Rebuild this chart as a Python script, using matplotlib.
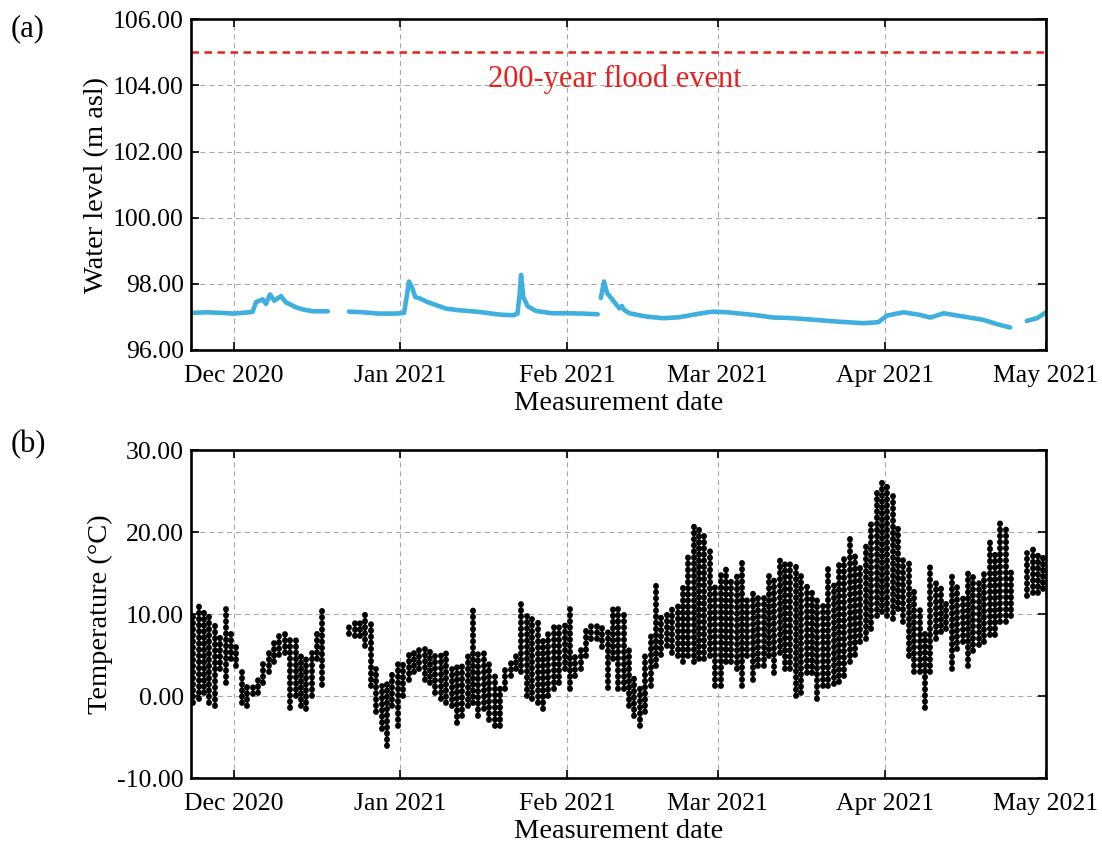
#!/usr/bin/env python3

import matplotlib
matplotlib.use("Agg")
import matplotlib.dates as mdates
import matplotlib.pyplot as plt
import numpy as np
import pandas as pd
from matplotlib.ticker import FormatStrFormatter


# (a) water level; NaN marks a logger gap
LEVEL_TIMES = [
    "2020-11-23", "2020-11-26", "2020-11-29", "2020-12-01", "2020-12-04 12:00",
    "2020-12-05 04:00", "2020-12-06 10:00", "2020-12-07 00:00", "2020-12-07 18:00",
    "2020-12-08 13:00", "2020-12-09 19:00", "2020-12-10 17:00", "2020-12-12 14:00",
    "2020-12-14", "2020-12-15 17:00", "2020-12-18 12:00", "2020-12-20",
    "2020-12-22 10:00", "2020-12-25", "2020-12-28", "2020-12-31",
    "2021-01-01 16:00", "2021-01-02 06:00", "2021-01-02 14:00", "2021-01-03 06:00",
    "2021-01-03 18:00", "2021-01-04 18:00", "2021-01-06", "2021-01-07 14:00",
    "2021-01-09 12:00", "2021-01-12", "2021-01-15 16:00", "2021-01-19 10:00",
    "2021-01-22", "2021-01-22 18:00", "2021-01-23 04:00", "2021-01-23 10:00",
    "2021-01-23 20:00", "2021-01-24 16:00", "2021-01-26 04:00", "2021-01-29 06:00",
    "2021-02-01", "2021-02-04", "2021-02-06 16:00", "2021-02-07",
    "2021-02-07 06:00", "2021-02-07 20:00", "2021-02-08 10:00", "2021-02-09 10:00",
    "2021-02-10 16:00", "2021-02-11 04:00", "2021-02-11 12:00", "2021-02-12 14:00",
    "2021-02-15 16:00", "2021-02-18 20:00", "2021-02-21 20:00", "2021-02-25 14:00",
    "2021-02-28", "2021-03-02 16:00", "2021-03-07 16:00", "2021-03-11 10:00",
    "2021-03-14", "2021-03-17 14:00", "2021-03-20", "2021-03-23", "2021-03-28",
    "2021-03-30 20:00", "2021-04-01 10:00", "2021-04-04 12:00", "2021-04-07 14:00",
    "2021-04-09 12:00", "2021-04-12", "2021-04-15 16:00", "2021-04-19 10:00",
    "2021-04-21 22:00", "2021-04-24 08:00", "2021-04-26", "2021-04-27 10:00",
    "2021-04-29 08:00", "2021-05-01",
]
LEVEL_M = [
    97.12, 97.14, 97.12, 97.10, 97.15,
    97.45, 97.53, 97.39, 97.68,
    97.49, 97.63, 97.44, 97.29,
    97.22, 97.17, 97.17, np.nan,
    97.16, 97.14, 97.10, 97.10,
    97.12, 97.70, 98.07, 97.85,
    97.60, 97.55, 97.45, 97.36,
    97.25, 97.20, 97.15, 97.07,
    97.05, 97.10, 97.70, 98.27,
    97.60, 97.32, 97.18, 97.11,
    97.11, 97.10, 97.08, np.nan,
    97.57, 98.07, 97.72, 97.52,
    97.26, 97.33, 97.22, 97.11,
    97.01, 96.96, 96.99, 97.10,
    97.16, 97.14, 97.06, 96.98,
    96.97, 96.93, 96.90, 96.86, 96.81,
    96.84, 97.04, 97.14, 97.06,
    96.98, 97.11, 97.01, 96.91,
    96.78, 96.68, np.nan, 96.88,
    96.96, 97.14,
]
FLOOD_LEVEL = 105.0

# (b) temperature: daily low / high of the hourly readings
TEMP_DAYS = [
    "2020-11-23", "2020-11-24", "2020-11-25", "2020-11-26", "2020-11-27", "2020-11-28",
    "2020-11-29", "2020-11-30", "2020-12-01", "2020-12-02", "2020-12-03", "2020-12-04",
    "2020-12-05", "2020-12-06", "2020-12-07", "2020-12-08", "2020-12-09", "2020-12-10",
    "2020-12-11", "2020-12-12", "2020-12-13", "2020-12-14", "2020-12-15", "2020-12-16",
    "2020-12-17",
    "2020-12-22", "2020-12-23", "2020-12-24", "2020-12-25", "2020-12-26", "2020-12-27",
    "2020-12-28", "2020-12-29", "2020-12-30", "2020-12-31",
    "2021-01-01", "2021-01-02", "2021-01-03", "2021-01-04", "2021-01-05", "2021-01-06",
    "2021-01-07", "2021-01-08", "2021-01-09", "2021-01-10", "2021-01-11", "2021-01-12",
    "2021-01-13", "2021-01-14", "2021-01-15", "2021-01-16", "2021-01-17", "2021-01-18",
    "2021-01-19", "2021-01-20", "2021-01-21", "2021-01-22", "2021-01-23", "2021-01-24",
    "2021-01-25", "2021-01-26", "2021-01-27", "2021-01-28", "2021-01-29", "2021-01-30",
    "2021-01-31",
    "2021-02-01", "2021-02-02", "2021-02-03", "2021-02-04", "2021-02-05", "2021-02-06",
    "2021-02-07", "2021-02-08", "2021-02-09", "2021-02-10", "2021-02-11", "2021-02-12",
    "2021-02-13", "2021-02-14", "2021-02-15", "2021-02-16", "2021-02-17", "2021-02-18",
    "2021-02-19", "2021-02-20", "2021-02-21", "2021-02-22", "2021-02-23", "2021-02-24",
    "2021-02-25", "2021-02-26", "2021-02-27", "2021-02-28",
    "2021-03-01", "2021-03-02", "2021-03-03", "2021-03-04", "2021-03-05", "2021-03-06",
    "2021-03-07", "2021-03-08", "2021-03-09", "2021-03-10", "2021-03-11", "2021-03-12",
    "2021-03-13", "2021-03-14", "2021-03-15", "2021-03-16", "2021-03-17", "2021-03-18",
    "2021-03-19", "2021-03-20", "2021-03-21", "2021-03-22", "2021-03-23", "2021-03-24",
    "2021-03-25", "2021-03-26", "2021-03-27", "2021-03-28", "2021-03-29", "2021-03-30",
    "2021-03-31",
    "2021-04-01", "2021-04-02", "2021-04-03", "2021-04-04", "2021-04-05", "2021-04-06",
    "2021-04-07", "2021-04-08", "2021-04-09", "2021-04-10", "2021-04-11", "2021-04-12",
    "2021-04-13", "2021-04-14", "2021-04-15", "2021-04-16", "2021-04-17", "2021-04-18",
    "2021-04-19", "2021-04-20", "2021-04-21", "2021-04-22", "2021-04-23", "2021-04-24",
    "2021-04-27", "2021-04-28", "2021-04-29", "2021-04-30",
]
TEMP_LOW = [
    -0.8, -0.4, 0.4, -0.8, -1.2, 3.3,
    1.6, 4.5, 3.7, -0.8, -1.2, 0.2,
    0.4, 1.6, 2.9, 4.2, 5.0, 5.3,
    -1.4, 0.0, -1.2, -1.6, 0.0, 4.5,
    1.4,
    7.6, 7.3, 7.3, 6.1, 1.2, -2.0,
    -4.0, -6.1, -1.2, -3.7,
    0.0, 2.0, 2.9, 3.3, 2.0, 1.6,
    0.4, -0.4, -0.8, -1.2, -3.3, -2.4,
    -1.2, -0.8, -2.4, -1.6, -2.9, -3.7,
    -3.7, 0.8, 2.4, 3.3, 2.9, 0.0,
    -0.4, -0.8, -1.6, 0.0, 0.8, 1.6,
    3.3,
    0.8, 2.5, 3.3, 4.9, 6.9, 7.0,
    6.0, 1.0, 4.5, 0.8, 0.8, -1.2,
    -2.4, -3.7, -2.0, 1.2, 3.7, 5.0,
    6.1, 5.3, 4.9, 4.1, 4.9, 4.1,
    4.5, 4.5, 4.9, 1.2,
    1.2, 4.1, 4.1, 3.3, 1.2, 4.9,
    2.0, 3.7, 3.7, 4.9, 2.8, 5.3,
    3.3, 3.3, 0.0, 0.4, 2.8, 2.8,
    -0.4, 1.2, 1.2, 1.5, 1.7, 2.5,
    4.1, 5.0, 6.6, 7.0, 8.2, 9.8,
    10.2,
    9.8, 9.4, 10.6, 9.0, 4.9, 2.9,
    2.9, -1.5, 2.9, 7.0, 7.8, 8.2,
    3.3, 5.7, 6.6, 3.7, 5.5, 6.2,
    6.6, 7.4, 7.4, 9.0, 9.0, 9.8,
    12.2, 12.6, 12.6, 13.0,
]
TEMP_HIGH = [
    10.2, 11.6, 10.6, 10.0, 9.0, 7.3,
    10.6, 8.0, 6.5, 2.9, 1.6, 1.6,
    2.2, 4.5, 5.7, 6.5, 7.5, 8.2,
    7.3, 7.3, 5.0, 4.5, 5.3, 8.2,
    10.8,
    8.4, 9.0, 9.2, 10.0, 9.4, 3.3,
    1.2, 2.0, 2.9, 4.5,
    4.0, 5.3, 5.5, 5.7, 5.7, 5.5,
    4.9, 5.3, 5.3, 3.3, 4.1, 4.1,
    5.0, 10.6, 5.7, 5.7, 4.5, 2.5,
    1.0, 3.3, 4.1, 4.9, 11.4, 9.8,
    9.4, 9.0, 7.3, 8.2, 9.0, 9.0,
    9.0,
    10.6, 5.3, 6.0, 8.6, 9.2, 9.0,
    8.5, 8.0, 10.8, 10.6, 10.0, 5.7,
    2.4, 1.2, 5.5, 7.7, 13.8, 9.8,
    10.2, 10.6, 11.0, 13.8, 17.1, 20.9,
    20.9, 20.1, 18.3, 13.8,
    15.0, 15.9, 14.2, 15.0, 16.3, 12.2,
    12.6, 12.6, 12.0, 14.6, 14.6, 17.1,
    16.3, 16.3, 16.3, 14.6, 13.4, 13.0,
    11.8, 11.0, 15.9, 14.0, 16.3, 16.7,
    19.5, 17.5, 15.9, 18.3, 21.1, 25.2,
    26.4,
    26.0, 24.4, 20.7, 16.7, 16.3, 13.0,
    10.6, 8.2, 16.3, 14.0, 13.4, 11.4,
    15.1, 13.4, 12.6, 15.5, 14.5, 13.8,
    15.5, 19.1, 17.5, 21.1, 20.5, 15.5,
    17.5, 17.9, 17.5, 17.0,
]

SERIF = ["Liberation Serif", "DejaVu Serif"]
X_START = pd.Timestamp("2020-11-23")
X_END = pd.Timestamp("2021-05-01")


def style_axes(ax, ylabel: str) -> None:
    ax.set_xlim(X_START, X_END)
    ax.xaxis.set_major_locator(mdates.MonthLocator())
    ax.xaxis.set_major_formatter(mdates.DateFormatter("%b %Y"))
    ax.yaxis.set_major_formatter(FormatStrFormatter("%.2f"))
    ax.tick_params(direction="in", top=True, right=True, length=6, width=1.2,
                   labelsize=18.5)
    ax.tick_params(axis="x", pad=11)
    ax.tick_params(axis="y", pad=5)
    for sp in ax.spines.values():
        sp.set_linewidth(1.9)
    ax.grid(True, color="#a8a8a8", linestyle=(0, (4.5, 3.5)), linewidth=0.8)
    ax.set_axisbelow(True)
    ax.set_xlabel("Measurement date", fontsize=20.5, labelpad=3)
    ax.set_ylabel(ylabel, fontsize=20.5, labelpad=3)


def main() -> None:
    plt.rcParams["font.family"] = SERIF

    fig = plt.figure(figsize=(11.02, 8.48), dpi=100)
    ax_a = fig.add_axes([0.1730, 0.5873, 0.7762, 0.3899])
    ax_b = fig.add_axes([0.1730, 0.0825, 0.7762, 0.3868])

    # (a) water level
    level_t = pd.to_datetime(LEVEL_TIMES, format="mixed")
    ax_a.plot(level_t, LEVEL_M, color="#3FAFDE", linewidth=3.3,
              solid_capstyle="round", solid_joinstyle="round")
    ax_a.axhline(FLOOD_LEVEL, color="#E8211F", linestyle=(0, (3, 2.2)), linewidth=1.8)
    ax_a.text(pd.Timestamp("2021-02-09 20:00"), 104.2, "200-year flood event",
              color="#E8211F", fontsize=22, ha="center", va="center")
    ax_a.set_ylim(96, 106)
    ax_a.set_yticks([96, 98, 100, 102, 104, 106])
    style_axes(ax_a, "Water level (m asl)")

    # (b) temperature, each day drawn as a dotted column from low to high
    days = pd.to_datetime(TEMP_DAYS, format="mixed") + pd.Timedelta(hours=12)
    ax_b.vlines(days, TEMP_LOW, TEMP_HIGH, colors="black", linewidth=4.2,
                linestyles=[(0, (0.1, 0.95))], capstyle="round")
    ax_b.set_ylim(-10, 30)
    ax_b.set_yticks([-10, 0, 10, 20, 30])
    style_axes(ax_b, "Temperature (°C)")

    fig.text(0.010, 0.966, "(a)", fontsize=22, va="center", ha="left")
    fig.text(0.010, 0.476, "(b)", fontsize=22, va="center", ha="left")

    fig.savefig("out.png", dpi=100)


if __name__ == "__main__":
    main()
